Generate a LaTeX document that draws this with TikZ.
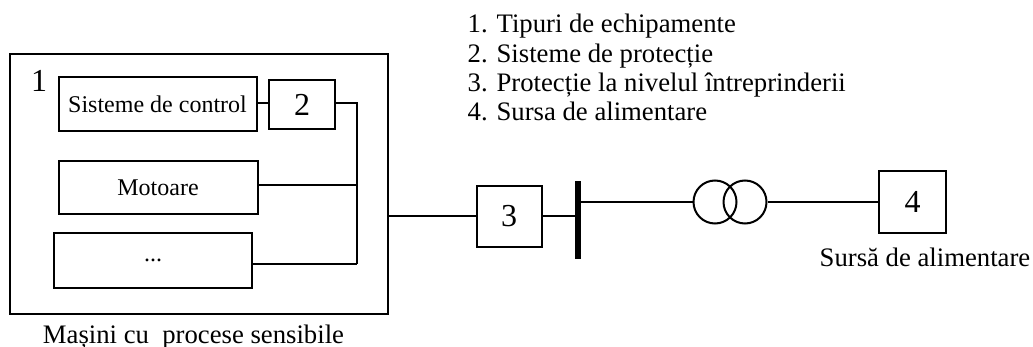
\documentclass[tikz,border=0pt]{standalone}
\usepackage{fontspec}
\setmainfont{Liberation Serif}
\newcommand\fList{\fontsize{26.7}{29}\selectfont}
\newcommand\fBox{\fontsize{24}{26}\selectfont}
\newcommand\fNum{\fontsize{32}{34}\selectfont}
\begin{document}
\begin{tikzpicture}[x=1pt,y=-1pt,
  blk/.style={draw, line width=2pt, rectangle, inner sep=0pt},
  wire/.style={line width=2pt},
  lab/.style={inner sep=0pt}]
\useasboundingbox (0,0) rectangle (1033,347);
% outer machine box
\node[blk, minimum width=378pt, minimum height=260pt] (outer) at (199,184) {};
\node[lab, anchor=base, font=\fNum] (n1) at (39,91.5) {1};
\node[blk, minimum width=198pt, minimum height=54pt, font=\fBox] (sc) at (157.5,104.5) {Sisteme de control};
\node[blk, minimum width=66pt, minimum height=49pt, font=\fNum] (b2) at (302,105) {2};
\node[blk, minimum width=199pt, minimum height=53pt, font=\fBox] (mot) at (158,187.5) {Motoare};
\node[blk, minimum width=198pt, minimum height=55pt, font=\fBox] (dots) at (153,260.5) {...};
\coordinate (jt) at (357,103);
\coordinate (jm) at (357,185);
\coordinate (jb) at (357,264);
\draw[wire] (sc.east |- jt) -- (b2.west |- jt);
\draw[wire] (b2.east |- jt) -- (jt) -- (jb);
\draw[wire] (mot.east |- jm) -- (jm);
\draw[wire] (dots.east |- jb) -- (jb);
\node[lab, anchor=base, font=\fList] (cap1) at (193.5,343) {Mașini cu\ \ procese sensibile};
% protection box 3
\node[blk, minimum width=65pt, minimum height=61pt, font=\fNum] (b3) at (509,216.5) {3};
\draw[wire] (outer.east |- b3.west) -- (b3.west);
% bus bar
\node[fill=black, inner sep=0pt, minimum width=6pt, minimum height=78pt] (bus) at (578,220) {};
\draw[wire] (b3.east) -- (b3.east -| bus.west);
% transformer
\node[draw, circle, line width=2pt, minimum size=43pt, inner sep=0pt] (t1) at (715,202) {};
\node[draw, circle, line width=2pt, minimum size=43pt, inner sep=0pt] (t2) at (745,202) {};
\draw[wire] (bus.east |- t1.west) -- (t1.west);
% source box 4
\node[blk, minimum width=67pt, minimum height=62pt, font=\fNum] (b4) at (912.5,202) {4};
\draw[wire] (t2.east) -- (b4.west);
\node[lab, anchor=base, font=\fList] (cap4) at (925,267) {Sursă de alimentare};
% legend
\node[lab, anchor=base west, font=\fList] (l1) at (467.5,33) {1. Tipuri de echipamente};
\node[lab, anchor=base west, font=\fList] (l2) at (467.5,62.5) {2. Sisteme de protecție};
\node[lab, anchor=base west, font=\fList] (l3) at (467.5,91.5) {3. Protecție la nivelul întreprinderii};
\node[lab, anchor=base west, font=\fList] (l4) at (467.5,120.5) {4. Sursa de alimentare};
\end{tikzpicture}
\end{document}
